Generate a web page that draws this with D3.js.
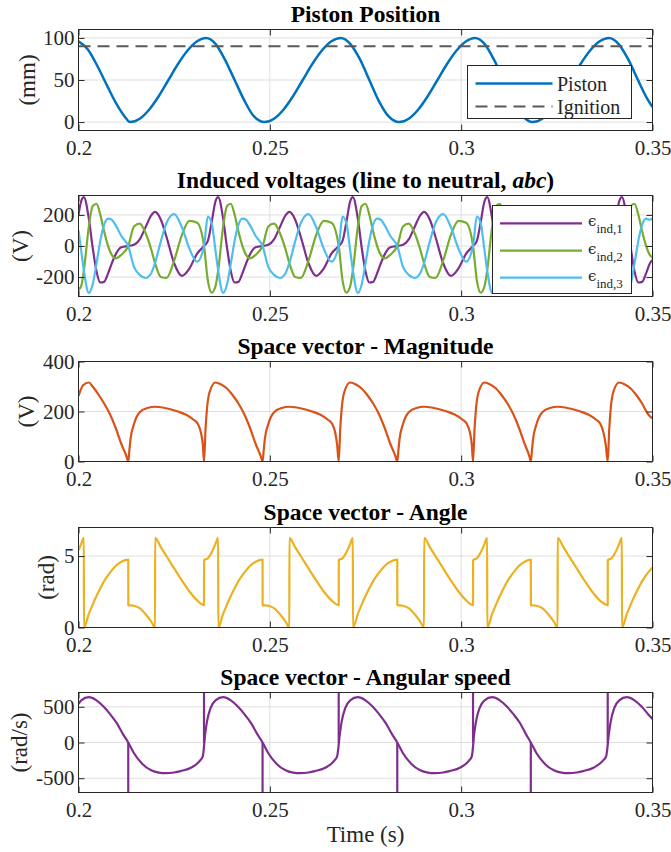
<!DOCTYPE html>
<html>
<head>
<meta charset="utf-8">
<script src="https://cdn.jsdelivr.net/npm/d3@7"></script>
<style>
body { margin: 0; background: #fff; }
text { font-family: "Liberation Serif", "Times New Roman", serif; }
</style>
</head>
<body>
<div id="chart"></div>
<script>
// ---- data ----
const xTicks = [0.2, 0.25, 0.3, 0.35]
const xTickLabels = ["0.2", "0.25", "0.3", "0.35"]

// piston position (mm)
const tPiston = [0.2000, 0.2025, 0.2050, 0.2075, 0.2100, 0.2120, 0.2135, 0.2160, 0.2185, 0.2210, 0.2235, 0.2260, 0.2285, 0.2310, 0.2333,
  0.2358, 0.2383, 0.2408, 0.2433, 0.2458, 0.2486, 0.2511, 0.2536, 0.2561, 0.2586, 0.2611, 0.2636, 0.2661, 0.2685,
  0.2710, 0.2735, 0.2760, 0.2785, 0.2810, 0.2838, 0.2863, 0.2888, 0.2913, 0.2938, 0.2963, 0.2988, 0.3013, 0.3036,
  0.3061, 0.3086, 0.3111, 0.3136, 0.3161, 0.3187, 0.3212, 0.3237, 0.3262, 0.3287, 0.3312, 0.3337, 0.3362, 0.3386,
  0.3411, 0.3436, 0.3461, 0.3486, 0.3500]
const piston = [96, 86, 66, 43, 21, 7, 0, 4, 15, 31, 50, 69, 85, 96, 100,
  93, 74, 50, 26, 7, 0, 4, 15, 31, 50, 69, 85, 96, 100,
  93, 75, 50, 25, 7, 0, 4, 15, 31, 50, 69, 85, 96, 100,
  93, 74, 50, 25, 7, 0, 4, 15, 31, 50, 69, 85, 96, 100,
  93, 75, 51, 28, 18]
const ignition = 90

// induced voltages, line to neutral (V)
const tVolt = [0.2000, 0.2007, 0.2014, 0.2027, 0.2037, 0.2047, 0.2057, 0.2067, 0.2077, 0.2087, 0.2097, 0.2112, 0.2130,
  0.2145, 0.2160, 0.2175, 0.2190, 0.2200, 0.2215, 0.2230, 0.2250, 0.2270, 0.2290, 0.2310, 0.2328,
  0.2338, 0.2348, 0.2358, 0.2365, 0.2378, 0.2388, 0.2398, 0.2408, 0.2418, 0.2428, 0.2438, 0.2448, 0.2463, 0.2481,
  0.2496, 0.2511, 0.2526, 0.2541, 0.2551, 0.2566, 0.2581, 0.2601, 0.2621, 0.2641, 0.2661, 0.2680,
  0.2690, 0.2700, 0.2710, 0.2717, 0.2730, 0.2740, 0.2750, 0.2760, 0.2770, 0.2780, 0.2790, 0.2800, 0.2815, 0.2833,
  0.2848, 0.2863, 0.2878, 0.2893, 0.2903, 0.2918, 0.2933, 0.2953, 0.2973, 0.2993, 0.3013, 0.3031,
  0.3041, 0.3051, 0.3061, 0.3068, 0.3081, 0.3091, 0.3101, 0.3111, 0.3121, 0.3131, 0.3141, 0.3151, 0.3166, 0.3182,
  0.3197, 0.3212, 0.3227, 0.3242, 0.3252, 0.3267, 0.3282, 0.3302, 0.3322, 0.3342, 0.3362, 0.3383,
  0.3393, 0.3403, 0.3413, 0.3420, 0.3433, 0.3443, 0.3453, 0.3463, 0.3473, 0.3483, 0.3493, 0.3500]
const eInd1 = [200, 288, 314, 176, -9, -162, -235, -231, -178, -112, -54, -8, 0,
  8, 43, 120, 197, 219, 171, 58, -111, -192, -144, -49, 0,
  33, 153, 288, 314, 176, -9, -162, -235, -231, -178, -112, -54, -8, 0,
  8, 43, 120, 197, 219, 171, 58, -111, -192, -144, -49, 0,
  33, 153, 288, 314, 176, -9, -162, -235, -231, -178, -112, -54, -8, 0,
  8, 43, 120, 197, 219, 171, 58, -111, -192, -144, -49, 0,
  33, 153, 288, 314, 176, -9, -162, -235, -231, -178, -112, -54, -8, 0,
  8, 43, 120, 197, 219, 171, 58, -111, -192, -144, -49, 0,
  33, 153, 288, 314, 176, -9, -162, -235, -231, -178, -112, -90]
const eInd2 = [-280, -259, -157, 125, 257, 272, 201, 93, 3, -57, -80, -56, 0,
  126, 144, 85, -22, -110, -199, -205, -94, 70, 162, 150, 0,
  -222, -300, -259, -157, 125, 257, 272, 201, 93, 3, -57, -80, -56, 0,
  126, 144, 85, -22, -110, -199, -205, -94, 70, 162, 150, 0,
  -222, -300, -259, -157, 125, 257, 272, 201, 93, 3, -57, -80, -56, 0,
  126, 144, 85, -22, -110, -199, -205, -94, 70, 162, 150, 0,
  -222, -300, -259, -157, 125, 257, 272, 201, 93, 3, -57, -80, -56, 0,
  126, 144, 85, -22, -110, -199, -205, -94, 70, 162, 150, 0,
  -222, -300, -259, -157, 125, 257, 272, 201, 93, 3, -57, -75]
const eInd3 = [100, -28, -157, -302, -248, -113, 33, 137, 176, 169, 134, 64, 0,
  -134, -186, -206, -175, -110, 28, 148, 205, 122, -18, -101, 0,
  190, 147, -28, -157, -302, -248, -113, 33, 137, 176, 169, 134, 64, 0,
  -134, -186, -206, -175, -110, 28, 148, 205, 122, -18, -101, 0,
  190, 147, -28, -157, -302, -248, -113, 33, 137, 176, 169, 134, 64, 0,
  -134, -186, -206, -175, -110, 28, 148, 205, 122, -18, -101, 0,
  190, 147, -28, -157, -302, -248, -113, 33, 137, 176, 169, 134, 64, 0,
  -134, -186, -206, -175, -110, 28, 148, 205, 122, -18, -101, 0,
  190, 147, -28, -157, -302, -248, -113, 33, 137, 176, 169, 175]

// space vector magnitude (V)
const tMag = [0.2000, 0.2012, 0.2027, 0.2037, 0.2052, 0.2067, 0.2082, 0.2097, 0.2112, 0.2125, 0.2130,
  0.2133, 0.2136, 0.2145, 0.2160, 0.2180, 0.2200, 0.2220, 0.2240, 0.2260, 0.2280, 0.2300, 0.2312, 0.2320, 0.2325, 0.2328,
  0.2332, 0.2336, 0.2343, 0.2358, 0.2373, 0.2388, 0.2403, 0.2418, 0.2433, 0.2448, 0.2463, 0.2476, 0.2481,
  0.2484, 0.2487, 0.2496, 0.2511, 0.2531, 0.2551, 0.2571, 0.2591, 0.2611, 0.2631, 0.2651, 0.2663, 0.2671, 0.2676, 0.2680,
  0.2684, 0.2688, 0.2695, 0.2710, 0.2725, 0.2740, 0.2755, 0.2770, 0.2785, 0.2800, 0.2815, 0.2828, 0.2833,
  0.2836, 0.2839, 0.2848, 0.2863, 0.2883, 0.2903, 0.2923, 0.2943, 0.2963, 0.2983, 0.3003, 0.3015, 0.3023, 0.3028, 0.3031,
  0.3035, 0.3039, 0.3046, 0.3061, 0.3076, 0.3091, 0.3106, 0.3121, 0.3136, 0.3151, 0.3166, 0.3178, 0.3182,
  0.3185, 0.3188, 0.3197, 0.3212, 0.3232, 0.3252, 0.3272, 0.3292, 0.3312, 0.3332, 0.3352, 0.3364, 0.3372, 0.3378, 0.3383,
  0.3387, 0.3391, 0.3398, 0.3413, 0.3428, 0.3443, 0.3458, 0.3473, 0.3488, 0.3500]
const magnitude = [262, 305, 316, 300, 268, 232, 190, 135, 70, 22, 0,
  45, 90, 150, 197, 214, 219, 216, 209, 200, 188, 168, 150, 115, 65, 0,
  130, 215, 280, 316, 308, 292, 265, 232, 190, 135, 70, 22, 0,
  45, 90, 150, 197, 214, 219, 216, 209, 200, 188, 168, 150, 115, 65, 0,
  130, 215, 280, 316, 308, 292, 265, 232, 190, 135, 70, 22, 0,
  45, 90, 150, 197, 214, 219, 216, 209, 200, 188, 168, 150, 115, 65, 0,
  130, 215, 280, 316, 308, 292, 265, 232, 190, 135, 70, 22, 0,
  45, 90, 150, 197, 214, 219, 216, 209, 200, 188, 168, 150, 115, 65, 0,
  130, 215, 280, 316, 308, 292, 265, 232, 190, 172]

// space vector angle (rad), wrapped to [0, 2pi)
const tAngle = [0.2000, 0.2007, 0.2014, 0.20142, 0.2027, 0.2037, 0.2047, 0.2057, 0.2067, 0.2077, 0.2087, 0.2097, 0.2112, 0.2130,
  0.21302, 0.2145, 0.2160, 0.2175, 0.2190, 0.2200, 0.22002, 0.2215, 0.2230, 0.2250, 0.2270, 0.2290, 0.2310, 0.2328,
  0.23282, 0.2338, 0.2348, 0.2358, 0.2365, 0.23652, 0.2378, 0.2388, 0.2398, 0.2408, 0.2418, 0.2428, 0.2438, 0.2448, 0.2463, 0.2481,
  0.24812, 0.2496, 0.2511, 0.2526, 0.2541, 0.2551, 0.25512, 0.2566, 0.2581, 0.2601, 0.2621, 0.2641, 0.2661, 0.2680,
  0.26802, 0.2690, 0.2700, 0.2710, 0.2717, 0.27172, 0.2730, 0.2740, 0.2750, 0.2760, 0.2770, 0.2780, 0.2790, 0.2800, 0.2815, 0.2833,
  0.28332, 0.2848, 0.2863, 0.2878, 0.2893, 0.2903, 0.29032, 0.2918, 0.2933, 0.2953, 0.2973, 0.2993, 0.3013, 0.3031,
  0.30312, 0.3041, 0.3051, 0.3061, 0.3068, 0.30682, 0.3081, 0.3091, 0.3101, 0.3111, 0.3121, 0.3131, 0.3141, 0.3151, 0.3166, 0.3182,
  0.31822, 0.3197, 0.3212, 0.3227, 0.3242, 0.3252, 0.32522, 0.3267, 0.3282, 0.3302, 0.3322, 0.3342, 0.3362, 0.3383,
  0.33832, 0.3393, 0.3403, 0.3413, 0.3420, 0.34202, 0.3433, 0.3443, 0.3453, 0.3463, 0.3473, 0.3483, 0.3493, 0.3500]
const angle = [5.40, 5.85, 6.28, 0, 0.95, 1.60, 2.20, 2.75, 3.25, 3.65, 4.00, 4.30, 4.60, 4.75,
  1.57, 1.52, 1.35, 0.95, 0.42, 0, 6.28, 5.63, 4.99, 4.14, 3.30, 2.52, 1.90, 1.57,
  4.71, 4.85, 5.25, 5.85, 6.28, 0, 0.95, 1.60, 2.20, 2.75, 3.25, 3.65, 4.00, 4.30, 4.60, 4.75,
  1.57, 1.52, 1.35, 0.95, 0.42, 0, 6.28, 5.63, 4.99, 4.14, 3.30, 2.52, 1.90, 1.57,
  4.71, 4.85, 5.25, 5.85, 6.28, 0, 0.95, 1.60, 2.20, 2.75, 3.25, 3.65, 4.00, 4.30, 4.60, 4.75,
  1.57, 1.52, 1.35, 0.95, 0.42, 0, 6.28, 5.63, 4.99, 4.14, 3.30, 2.52, 1.90, 1.57,
  4.71, 4.85, 5.25, 5.85, 6.28, 0, 0.95, 1.60, 2.20, 2.75, 3.25, 3.65, 4.00, 4.30, 4.60, 4.75,
  1.57, 1.52, 1.35, 0.95, 0.42, 0, 6.28, 5.63, 4.99, 4.14, 3.30, 2.52, 1.90, 1.57,
  4.71, 4.85, 5.25, 5.85, 6.28, 0, 0.95, 1.60, 2.20, 2.75, 3.25, 3.65, 4.00, 4.20]

// space vector angular speed (rad/s)
const tSpeed = [0.2000, 0.2007, 0.2027, 0.2047, 0.2066, 0.2082, 0.2100, 0.2117, 0.2130,
  0.2145, 0.2167, 0.2190, 0.2210, 0.2228, 0.2250, 0.2267, 0.2295, 0.2318, 0.2325,
  0.2331, 0.2336, 0.2345, 0.2358, 0.2378, 0.2398, 0.2417, 0.2433, 0.2451, 0.2468, 0.2481,
  0.2496, 0.2518, 0.2541, 0.2561, 0.2579, 0.2601, 0.2618, 0.2646, 0.2669, 0.2676,
  0.2683, 0.2688, 0.2697, 0.2710, 0.2730, 0.2750, 0.2769, 0.2785, 0.2803, 0.2820, 0.2833,
  0.2848, 0.2870, 0.2893, 0.2913, 0.2931, 0.2953, 0.2970, 0.2998, 0.3021, 0.3028,
  0.3034, 0.3039, 0.3048, 0.3061, 0.3081, 0.3101, 0.3120, 0.3136, 0.3154, 0.3170, 0.3182,
  0.3197, 0.3219, 0.3242, 0.3262, 0.3280, 0.3302, 0.3319, 0.3347, 0.3371, 0.3379,
  0.3386, 0.3391, 0.3400, 0.3413, 0.3433, 0.3453, 0.3472, 0.3488, 0.3500]
const speed = [540, 590, 634, 590, 500, 400, 270, 110, 0,
  -150, -300, -390, -422, -430, -420, -400, -350, -250, -190,
  120, 300, 480, 590, 634, 590, 500, 400, 270, 110, 0,
  -150, -300, -390, -422, -430, -420, -400, -350, -250, -190,
  120, 300, 480, 590, 634, 590, 500, 400, 270, 110, 0,
  -150, -300, -390, -422, -430, -420, -400, -350, -250, -190,
  120, 300, 480, 590, 634, 590, 500, 400, 270, 110, 0,
  -150, -300, -390, -422, -430, -420, -400, -350, -250, -190,
  120, 300, 480, 590, 634, 590, 500, 400, 330]
// single-sample spikes where the angle is unwrapped by pi
const spikeT = [0.2130, 0.2328, 0.2481, 0.2680, 0.2833, 0.3031, 0.3182, 0.3383]
const spikeV = [-2000, 2000, -2000, 2000, -2000, 2000, -2000, 2000]

// ---- layout ----
const width = 671
const height = 852
const left = 78.5
const right = 652.5
const ink = "#262626"
const gridColor = "#dfdfdf"
const serif = '"Liberation Serif", "Times New Roman", serif'

const panels = [
    {title: "Piston Position", ylabel: "(mm)", domain: [-10, 110], ticks: [0, 50, 100], top: 29.5, bottom: 130.5, ylabelX: 35},
    {title: "Induced voltages", ylabel: "(V)", domain: [-325, 325], ticks: [-200, 0, 200], top: 195.5, bottom: 296.5, ylabelX: 28},
    {title: "Space vector - Magnitude", ylabel: "(V)", domain: [0, 400], ticks: [0, 200, 400], top: 361.5, bottom: 461.5, ylabelX: 34},
    {title: "Space vector - Angle", ylabel: "(rad)", domain: [0, 7], ticks: [0, 5], top: 527.5, bottom: 627.5, ylabelX: 54},
    {title: "Space vector - Angular speed", ylabel: "(rad/s)", domain: [-700, 700], ticks: [-500, 0, 500], top: 692.5, bottom: 792.5, ylabelX: 27},
]

const svg = d3.select("div#chart").append("svg").attr("width", width).attr("height", height)
svg.append("rect").attr("width", width).attr("height", height).attr("fill", "#fff")

const x = d3.scaleLinear().domain([0.2, 0.35]).range([left, right])

function drawPanel(p, i) {
    const y = d3.scaleLinear().domain(p.domain).range([p.bottom, p.top])
    const g = svg.append("g").attr("class", "panel" + i)

    g.selectAll("line.gx").data(xTicks).join("line").attr("class", "gx")
        .attr("x1", d => x(d)).attr("x2", d => x(d))
        .attr("y1", p.top).attr("y2", p.bottom)
        .attr("stroke", gridColor).attr("stroke-width", 1)
    g.selectAll("line.gy").data(p.ticks).join("line").attr("class", "gy")
        .attr("x1", left).attr("x2", right)
        .attr("y1", d => y(d)).attr("y2", d => y(d))
        .attr("stroke", gridColor).attr("stroke-width", 1)

    svg.append("clipPath").attr("id", "clip" + i)
        .append("rect").attr("x", left).attr("y", p.top)
        .attr("width", right - left).attr("height", p.bottom - p.top)
    const plot = g.append("g").attr("clip-path", `url(#clip${i})`)

    const axes = g.append("g").attr("class", "axes")
    const styleAxis = sel => {
        sel.select(".domain").remove()
        sel.attr("color", ink).attr("font-size", 21).attr("font-family", serif)
        sel.selectAll(".tick line").attr("stroke-width", 1)
    }
    axes.append("g").attr("transform", `translate(0,${p.bottom})`)
        .call(d3.axisBottom(x).tickValues(xTicks).tickFormat((d, k) => xTickLabels[k]).tickSize(-6).tickPadding(10))
        .call(styleAxis)
    axes.append("g").attr("transform", `translate(0,${p.top})`)
        .call(d3.axisTop(x).tickValues(xTicks).tickFormat("").tickSize(-6))
        .call(styleAxis)
    axes.append("g").attr("transform", `translate(${left},0)`)
        .call(d3.axisLeft(y).tickValues(p.ticks).tickFormat(d => String(d)).tickSize(-6).tickPadding(4))
        .call(styleAxis)
    axes.append("g").attr("transform", `translate(${right},0)`)
        .call(d3.axisRight(y).tickValues(p.ticks).tickFormat("").tickSize(-6))
        .call(styleAxis)
    axes.append("rect").attr("x", left).attr("y", p.top)
        .attr("width", right - left).attr("height", p.bottom - p.top)
        .attr("fill", "none").attr("stroke", ink).attr("stroke-width", 1)

    const title = g.append("text").attr("x", (left + right) / 2).attr("y", p.top - 8)
        .attr("text-anchor", "middle").attr("font-size", 23.5).attr("font-weight", "bold").attr("fill", "#000")
    if (i === 1) {
        title.append("tspan").text("Induced voltages (line to neutral, ")
        title.append("tspan").attr("font-style", "italic").text("abc")
        title.append("tspan").text(")")
    } else {
        title.text(p.title)
    }

    g.append("text")
        .attr("transform", `translate(${p.ylabelX},${(p.top + p.bottom) / 2}) rotate(-90)`)
        .attr("text-anchor", "middle").attr("font-size", 23).attr("fill", ink)
        .text(p.ylabel)

    return {y, plot, g}
}

const P = panels.map(drawPanel)

function addLine(panel, ts, vs, color, w) {
    panel.plot.append("path")
        .datum(d3.zip(ts, vs))
        .attr("fill", "none").attr("stroke", color).attr("stroke-width", w)
        .attr("stroke-linejoin", "round")
        .attr("d", d3.line().x(d => x(d[0])).y(d => panel.y(d[1])).curve(d3.curveMonotoneX))
}

// 1. piston position
addLine(P[0], tPiston, piston, "#0072BD", 2.5)
P[0].plot.append("line")
    .attr("x1", left).attr("x2", right)
    .attr("y1", P[0].y(ignition)).attr("y2", P[0].y(ignition))
    .attr("stroke", "#595959").attr("stroke-width", 2).attr("stroke-dasharray", "12,7")

// 2. induced voltages
const voltColors = ["#7E2F8E", "#77AC30", "#4DBEEE"]
addLine(P[1], tVolt, eInd1, voltColors[0], 2.2)
addLine(P[1], tVolt, eInd2, voltColors[1], 2.2)
addLine(P[1], tVolt, eInd3, voltColors[2], 2.2)

// 3. magnitude
addLine(P[2], tMag, magnitude, "#D95319", 2.2)

// 4. angle
addLine(P[3], tAngle, angle, "#EDB120", 2.2)

// 5. angular speed
addLine(P[4], tSpeed, speed, "#7E2F8E", 2.2)
P[4].plot.selectAll("line.spike").data(d3.zip(spikeT, spikeV)).join("line").attr("class", "spike")
    .attr("x1", d => x(d[0])).attr("x2", d => x(d[0]))
    .attr("y1", P[4].y(0)).attr("y2", d => P[4].y(d[1]))
    .attr("stroke", "#7E2F8E").attr("stroke-width", 2.2)

// x label
svg.append("text").attr("x", (left + right) / 2).attr("y", 842)
    .attr("text-anchor", "middle").attr("font-size", 23).attr("fill", ink)
    .text("Time (s)")

// ---- legends ----
const leg1 = svg.append("g").attr("class", "legend1")
leg1.append("rect").attr("x", 467.5).attr("y", 65.5).attr("width", 164).attr("height", 53)
    .attr("fill", "#fff").attr("stroke", ink).attr("stroke-width", 1)
const leg1Items = [
    {label: "Piston", color: "#0072BD", dash: null, y: 83.5},
    {label: "Ignition", color: "#595959", dash: "12,7", y: 106.5},
]
leg1Items.forEach(d => {
    leg1.append("line").attr("x1", 475.5).attr("x2", 552.5).attr("y1", d.y).attr("y2", d.y)
        .attr("stroke", d.color).attr("stroke-width", d.dash ? 2 : 2.5).attr("stroke-dasharray", d.dash)
    leg1.append("text").attr("x", 557).attr("y", d.y + 7).attr("font-size", 20).attr("fill", ink).text(d.label)
})

const leg2 = svg.append("g").attr("class", "legend2")
leg2.append("rect").attr("x", 492.5).attr("y", 205.5).attr("width", 139).attr("height", 88)
    .attr("fill", "#fff").attr("stroke", ink).attr("stroke-width", 1)
const leg2Y = [223.3, 250.7, 277.7]
leg2Y.forEach((ly, k) => {
    leg2.append("line").attr("x1", 500).attr("x2", 582).attr("y1", ly).attr("y2", ly)
        .attr("stroke", voltColors[k]).attr("stroke-width", 2.2)
    const t = leg2.append("text").attr("x", 588).attr("y", ly + 3).attr("fill", ink)
    t.append("tspan").attr("font-size", 15).attr("font-family", '"DejaVu Serif", "Liberation Serif", serif').text("\u03F5")
    t.append("tspan").attr("font-size", 13).attr("dy", 7).text("ind," + (k + 1))
})
</script>
</body>
</html>
